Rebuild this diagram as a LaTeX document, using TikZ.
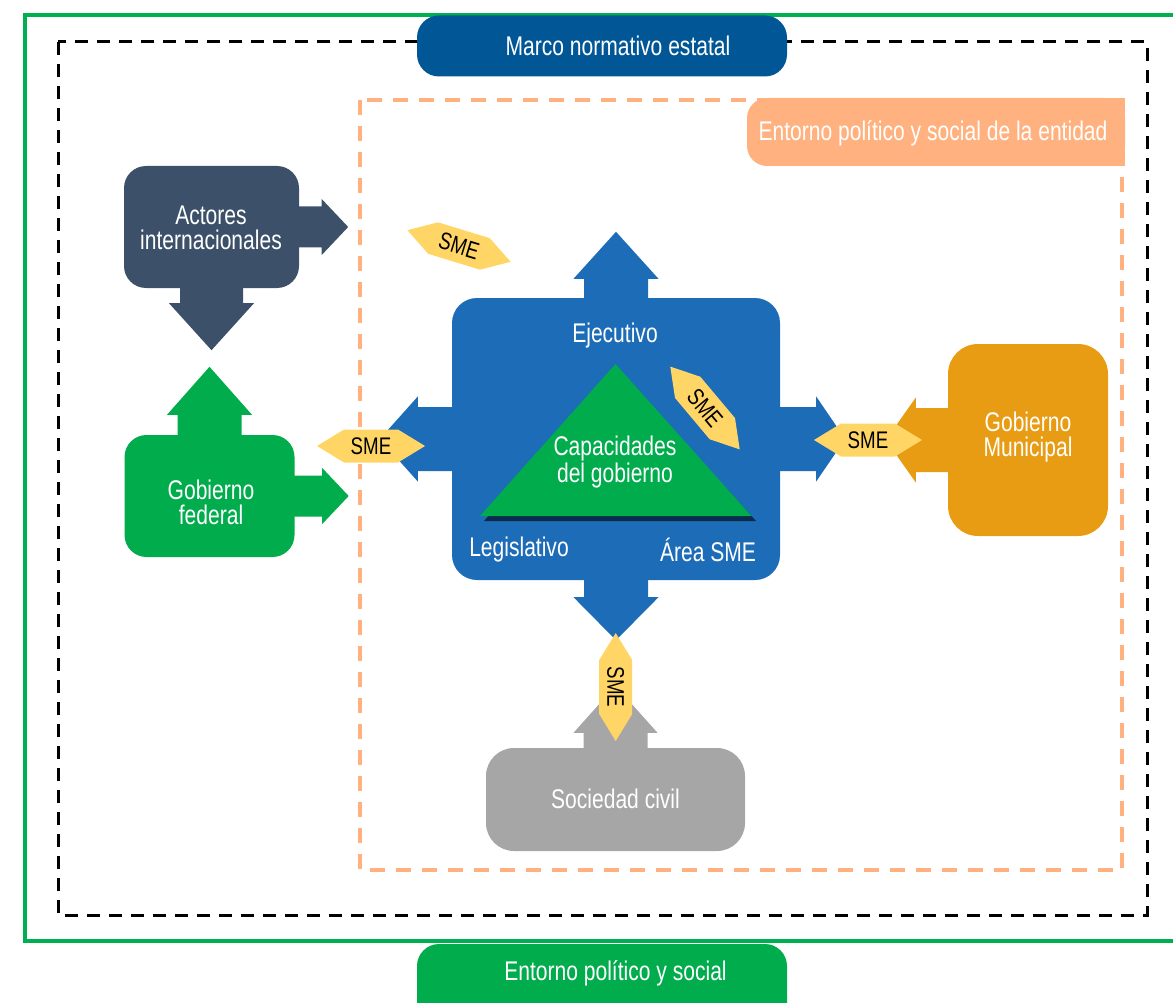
\documentclass[tikz,border=0pt]{standalone}
\usepackage{fontspec}
\setmainfont[FakeStretch=0.78]{Liberation Sans}
\usetikzlibrary{calc}
\definecolor{gline}{RGB}{0,176,80}
\definecolor{gfill}{RGB}{0,172,76}
\definecolor{navy}{RGB}{1,86,150}
\definecolor{peach}{RGB}{255,178,127}
\definecolor{bluef}{RGB}{29,108,183}
\definecolor{slate}{RGB}{60,81,105}
\definecolor{amber}{RGB}{232,156,19}
\definecolor{tagy}{RGB}{255,214,102}
\definecolor{grayf}{RGB}{166,166,166}
\definecolor{shadowc}{RGB}{10,30,60}
% block arrow: #1 start anchor, #2 direction, #3 length, #4 half shaft, #5 half head, #6 head length, #7 colour
\newcommand\blockarr[7]{%
  \fill[#7,shift={(#1)},rotate=#2] (-1,-#4) -- ({#3-#6},-#4) -- ({#3-#6},-#5) -- (#3,0)
    -- ({#3-#6},#5) -- ({#3-#6},#4) -- (-1,#4) -- cycle;}
% SME tag: #1 name, #2 centre, #3 angle
\newcommand\smetag[3]{%
  \begin{scope}[shift={(#2)},rotate=#3]
    \fill[tagy] (-54,0) -- (-27,-16.5) -- (27,-16.5) -- (54,0) -- (27,16.5) -- (-27,16.5) -- cycle;
  \end{scope}
  \node[smetxt,rotate=#3] (#1) at (#2) {SME};}
\begin{document}
\begin{tikzpicture}[x=1pt,y=-1pt,
  txt/.style={text=white,font=\fontsize{27}{25}\selectfont,align=center,inner sep=0pt},
  smetxt/.style={text=black,font=\fontsize{24}{24}\selectfont,inner sep=0pt},
  panel/.style={inner sep=0pt,minimum width=#1},
]
\useasboundingbox (0,0) rectangle (1173,1003);

% frames
\draw[gline, line width=4.5pt] (1185,15) -- (25,15) -- (25,941) -- (1185,941);
\draw[black, line width=3pt, dash pattern=on 13pt off 9pt] (58,42) rectangle (1147,915);
\draw[peach, line width=4.5pt, dash pattern=on 15pt off 11pt] (360,100) rectangle (1122,870);

% frame labels
\node[panel=370pt, fill=navy, rounded corners=22pt, minimum height=61pt] (marco) at (602,46) {};
\node[txt] (marcot) at (618,46) {Marco normativo estatal};
\node[panel=378pt, fill=peach, rounded corners=20pt, minimum height=68pt] (ent) at (936,132) {};
\fill[peach] (1100,98) rectangle (1125,166);
\node[txt] (entt) at (933,133) {Entorno político y social de la entidad};
\node[panel=370pt, fill=gfill, rounded corners=22pt, minimum height=86pt] (entb) at (602,987) {};
\node[txt] (entbt) at (615.5,973) {Entorno político y social};

% boxes
\node[panel=175pt, fill=slate, rounded corners=22pt, minimum height=122pt] (act) at (211.5,227) {};
\node[panel=170pt, fill=gfill, rounded corners=22pt, minimum height=122pt] (fed) at (209.5,496) {};
\node[panel=328pt, fill=bluef, rounded corners=25pt, minimum height=282pt] (exe) at (616,439) {};
\node[panel=160pt, fill=amber, rounded corners=30pt, minimum height=192pt] (mun) at (1028,440) {};
\node[panel=259pt, fill=grayf, rounded corners=28pt, minimum height=103pt] (soc) at (615.5,799.5) {};

% block arrows
\blockarr{act.east}{0}{49}{20.5}{28}{26.5}{slate}
\blockarr{act.south}{-90}{62}{31.5}{42.5}{47}{slate}
\blockarr{fed.north}{90}{68}{32}{42.5}{48}{gfill}
\blockarr{fed.east}{0}{54}{20.5}{28}{26.5}{gfill}
\blockarr{exe.north}{90}{66}{32}{42.5}{47}{bluef}
\blockarr{exe.south}{-90}{60}{32}{42.5}{43}{bluef}
\blockarr{exe.east}{0}{65}{32}{42.5}{29}{bluef}
\blockarr{exe.west}{180}{72}{32}{42.5}{38}{bluef}
\blockarr{mun.west}{180}{62}{32}{42.5}{30}{amber}
\blockarr{soc.north}{90}{62}{32}{42}{47}{grayf}

% triangle
\fill[shadowc, opacity=0.85] (618.5,370) -- (484,521) -- (756,521) -- cycle;
\fill[gfill] (615.5,364) -- (480,516) -- (751.5,516) -- cycle;

% texts
\node[txt] (actt) at (211,227.5) {Actores\\internacionales};
\node[txt] (fedt) at (211,502) {Gobierno\\federal};
\node[txt] (munt) at (1028,437) {Gobierno\\Municipal};
\node[txt] (soct) at (615.5,799) {Sociedad civil};
\node[txt] (ejec) at (615,336) {Ejecutivo};
\node[txt] (capt) at (615,462) {Capacidades\\del gobierno};
\node[txt] (legt) at (519,550) {Legislativo};
\node[txt] (aret) at (708,550) {Área SME};

% SME tags
\smetag{smeA}{459,246}{-17}
\smetag{smeB}{705,408}{-50}
\smetag{smeL}{371,446}{0}
\smetag{smeR}{868,440}{0}
\smetag{smeS}{615.7,687}{-90}
\end{tikzpicture}
\end{document}
